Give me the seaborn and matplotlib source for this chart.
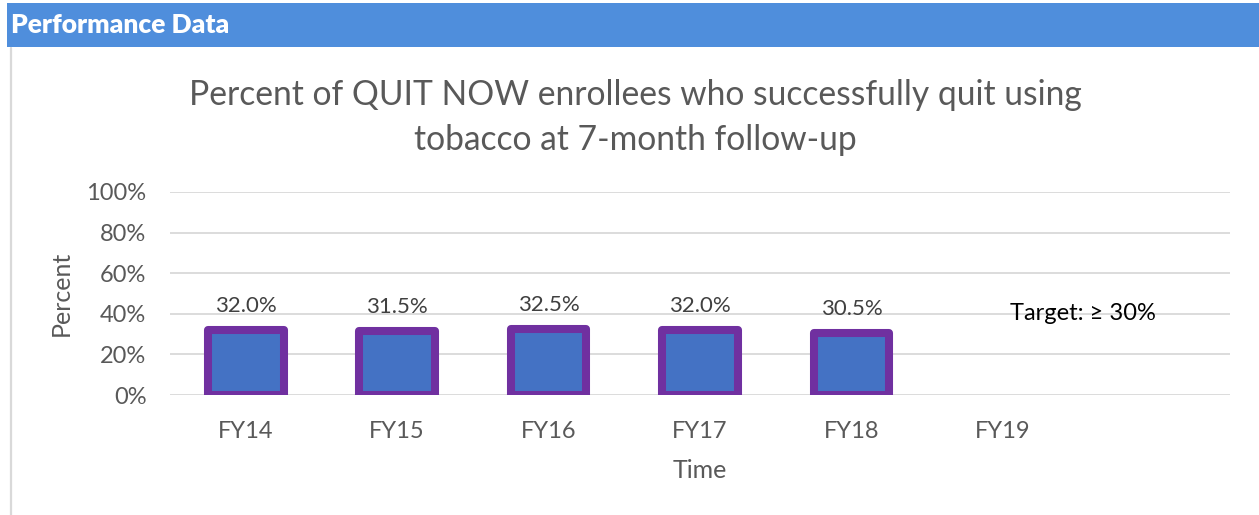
import matplotlib
matplotlib.use("Agg")
import matplotlib.pyplot as plt
import seaborn as sns
import pandas as pd
from matplotlib.patches import Rectangle
from matplotlib.lines import Line2D
from matplotlib.ticker import FuncFormatter

categories = ["FY14", "FY15", "FY16", "FY17", "FY18", "FY19", " "]
bar_categories = ["FY14", "FY15", "FY16", "FY17", "FY18"]
values = [32.0, 31.5, 32.5, 32.0, 30.5]
yticks = [0, 20, 40, 60, 80, 100]
title = "Percent of QUIT NOW enrollees who successfully quit using\ntobacco at 7-month follow-up"
target_text = "Target: \u2265 30%"

sns.set_theme(style="white")
plt.rcParams['font.family'] = ['Lato', 'DejaVu Sans']

fig = plt.figure(figsize=(12.59, 5.15), dpi=100)
W, H = 1259, 515

# header bar
fig.patches.append(Rectangle((7 / W, 1 - 47 / H), (W - 7) / W, 44 / H,
                             transform=fig.transFigure, facecolor="#4F8EDC",
                             edgecolor="none", zorder=0))
fig.text(11 / W, 1 - 25 / H, "Performance Data", color="white", fontsize=19,
         fontweight="heavy", va="center", ha="left")
fig.lines.append(Line2D([11 / W, 11 / W], [0, 1 - 48 / H], transform=fig.transFigure,
                        color="#D9D9D9", lw=1.6))

ax = fig.add_axes([170 / W, 1 - 395 / H, 1060 / W, 203 / H])
df = pd.DataFrame({"cat": bar_categories, "val": values})
sns.barplot(data=df, x="cat", y="val", order=categories, ax=ax, width=0.5,
            color="#4472C4", saturation=1, edgecolor="#7030A0", linewidth=5.8,
            zorder=3)
for p in ax.patches:
    p.set_joinstyle("round")
ax.set_ylim(0, 100)
ax.set_xlim(-0.5, len(categories) - 0.5)
ax.set_yticks(yticks)
ax.yaxis.set_major_formatter(FuncFormatter(lambda v, _: f"{int(v)}%"))
ax.grid(axis="y", color="#D9D9D9", lw=1.3, zorder=0)
ax.set_axisbelow(True)
for s in ax.spines.values():
    s.set_visible(False)
ax.tick_params(axis="both", length=0, labelsize=17, colors="#595959")
ax.tick_params(axis="x", pad=19)
ax.tick_params(axis="y", pad=17)
ax.set_xlabel("Time", fontsize=18, color="#595959", labelpad=12)
ax.set_ylabel("Percent", fontsize=18, color="#595959", labelpad=10)

for cont in ax.containers:
    ax.bar_label(cont, fmt="%.1f%%", padding=10, fontsize=16, color="#404040")

ax.text(5.53, 40, target_text, fontsize=17, color="black", ha="center", va="center")

fig.text(635 / W, 1 - 118 / H, title, ha="center", va="center", fontsize=24.2,
         color="#595959", linespacing=1.5)

fig.savefig("out.png", dpi=100)
